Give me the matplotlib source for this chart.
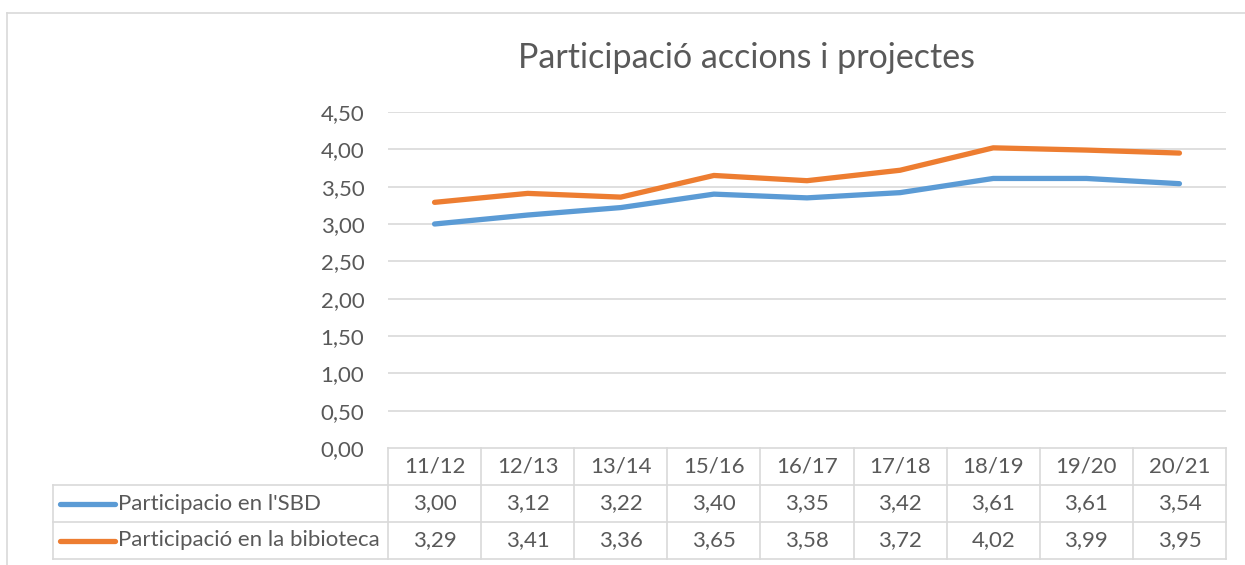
import matplotlib.pyplot as plt
from matplotlib.lines import Line2D

plt.rcParams['font.family'] = ['Lato', 'DejaVu Sans']

# dades
cursos = ['11/12', '12/13', '13/14', '15/16', '16/17', '17/18', '18/19', '19/20', '20/21']
sbd = [3.00, 3.12, 3.22, 3.40, 3.35, 3.42, 3.61, 3.61, 3.54]
biblioteca = [3.29, 3.41, 3.36, 3.65, 3.58, 3.72, 4.02, 3.99, 3.95]
series = [("Participacio en l'SBD", sbd, '#5B9BD5'),
          ("Participació en la bibioteca", biblioteca, '#ED7D31')]
yticks = [0, 0.5, 1, 1.5, 2, 2.5, 3, 3.5, 4, 4.5]

W, H = 1245, 565
grid = '#d9d9d9'
txt = '#595959'
fs = 16

def fx(px):
    return px / W

def fy(py):
    return 1 - py / H

fig = plt.figure(figsize=(W / 100, H / 100), dpi=100)

# marc del grafic
fig.add_artist(Line2D([fx(7), 1], [fy(13), fy(13)], color=grid, lw=1.2))
fig.add_artist(Line2D([fx(7), fx(7)], [fy(13), 0], color=grid, lw=1.2))

left, right = 388, 1226
ax = fig.add_axes([fx(left), fy(448), fx(right - left), fy(112) - fy(448)])
x = list(range(len(cursos)))
for nom, vals, col in series:
    ax.plot(x, vals, color=col, lw=3.8, solid_capstyle='round')
ax.set_xlim(-0.5, len(cursos) - 0.5)
ax.set_ylim(0, 4.5)
ax.set_yticks(yticks)
ax.set_yticklabels([f"{v:.2f}".replace('.', ',') for v in yticks])
for v in yticks[1:]:
    ax.axhline(v, color=grid, lw=1.2, zorder=0)
ax.tick_params(axis='y', length=0, pad=17, labelsize=fs, labelcolor=txt)
ax.set_xticks([])
for s in ax.spines.values():
    s.set_visible(False)

fig.text(fx(747), fy(58), 'Participació accions i projectes', ha='center', va='center',
         fontsize=24.5, color=txt)

# taula de dades
tb = fig.add_axes([fx(left), fy(559), fx(right - left), fy(448) - fy(559)])
tb.set_xlim(-0.5, len(cursos) - 0.5)
tb.set_ylim(0, 3)
tb.axis('off')
colw = (right - left) / len(cursos)
xl = -0.5 - (left - 53) / colw
kw = dict(color=grid, lw=1.2, clip_on=False)
tb.plot([-0.5, len(cursos) - 0.5], [3, 3], **kw)
for yy in [2, 1, 0]:
    tb.plot([xl, len(cursos) - 0.5], [yy, yy], **kw)
tb.plot([xl, xl], [0, 2], **kw)
for i in range(len(cursos) + 1):
    tb.plot([i - 0.5, i - 0.5], [0, 3], **kw)
for i, c in enumerate(cursos):
    tb.text(i, 2.5, c, ha='center', va='center', fontsize=fs, color=txt)
for r, (nom, vals, col) in enumerate(series):
    yc = 1.5 - r
    for i, v in enumerate(vals):
        tb.text(i, yc, f"{v:.2f}".replace('.', ','), ha='center', va='center',
                fontsize=fs, color=txt)
    x0 = xl + 7 / colw
    x1 = xl + 62 / colw
    tb.plot([x0, x1], [yc, yc], color=col, lw=3.8, solid_capstyle='round', clip_on=False)
    tb.text(xl + 65 / colw, yc, nom, ha='left', va='center', fontsize=fs, color=txt)

fig.savefig('out.png', dpi=100, facecolor='white')
